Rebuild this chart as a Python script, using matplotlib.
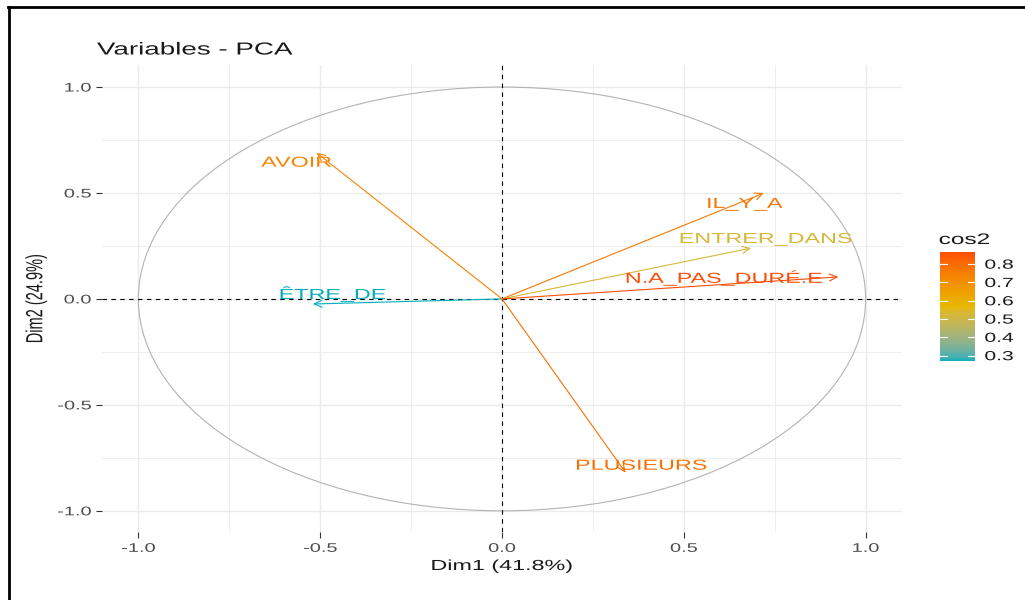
import numpy as np
import matplotlib
matplotlib.use("Agg")
import matplotlib.pyplot as plt
from matplotlib.colors import ListedColormap, Normalize, to_rgb
from matplotlib.lines import Line2D
from matplotlib.patches import Circle
from matplotlib.patheffects import AbstractPathEffect
from matplotlib.transforms import Affine2D
import matplotlib.cm as cm

plt.rcParams["font.family"] = ["Liberation Sans", "DejaVu Sans"]

# variable coordinates on Dim1 / Dim2
variables = ["AVOIR", "IL_Y_A", "ENTRER_DANS", "N.A_PAS_DURÉ.E", "ÊTRE_DE", "PLUSIEURS"]
dim1 = [-0.51, 0.72, 0.685, 0.925, -0.52, 0.34]
dim2 = [0.69, 0.50, 0.24, 0.104, -0.024, -0.82]

title = "Variables - PCA"
xlabel = "Dim1 (41.8%)"
ylabel = "Dim2 (24.9%)"
ticks = [-1.0, -0.5, 0.0, 0.5, 1.0]
cbar_ticks = [0.3, 0.4, 0.5, 0.6, 0.7, 0.8]
gradient_cols = ["#00AFBB", "#E7B800", "#FC4E07"]

# label offsets from arrow tip, in points
label_offsets = {
    "AVOIR": (-14.4, -7.2),
    "IL_Y_A": (-13.7, -7.9),
    "ENTRER_DANS": (10.8, 6.5),
    "N.A_PAS_DURÉ.E": (-82.2, -0.7),
    "ÊTRE_DE": (14.4, 7.2),
    "PLUSIEURS": (11.5, 5.0),
}

SX = 1.6  # the screenshot is stretched sideways, text too


class Stretch(AbstractPathEffect):
    """Widen text horizontally around an anchor (screen space)."""

    def __init__(self, sx=SX, anchor="center"):
        super().__init__()
        self.sx = sx
        self.anchor = anchor

    def draw_path(self, renderer, gc, tpath, affine, rgbFace=None):
        ext = tpath.get_extents(affine)
        if self.anchor == "left":
            x0 = ext.x0
        elif self.anchor == "right":
            x0 = ext.x1
        else:
            x0 = 0.5 * (ext.x0 + ext.x1)
        tr = affine + Affine2D().translate(-x0, 0).scale(self.sx, 1).translate(x0, 0)
        renderer.draw_path(gc, tpath, tr, rgbFace)


def stretch(artists, anchor="center"):
    for a in artists:
        a.set_path_effects([Stretch(SX, anchor)])


# ggplot interpolates gradients in Lab space
def srgb_to_lab(rgb):
    c = np.asarray(rgb, float)
    c = np.where(c <= 0.04045, c / 12.92, ((c + 0.055) / 1.055) ** 2.4)
    m = np.array([[0.4124, 0.3576, 0.1805], [0.2126, 0.7152, 0.0722], [0.0193, 0.1192, 0.9505]])
    xyz = m @ c / np.array([0.95047, 1.0, 1.08883])
    d = 6 / 29
    f = np.where(xyz > d ** 3, np.cbrt(xyz), xyz / (3 * d * d) + 4 / 29)
    return np.array([116 * f[1] - 16, 500 * (f[0] - f[1]), 200 * (f[1] - f[2])])


def lab_to_srgb(lab):
    L, a, b = lab
    fy = (L + 16) / 116
    f = np.array([fy + a / 500, fy, fy - b / 200])
    d = 6 / 29
    xyz = np.where(f > d, f ** 3, 3 * d * d * (f - 4 / 29)) * np.array([0.95047, 1.0, 1.08883])
    mi = np.array([[3.2406, -1.5372, -0.4986], [-0.9689, 1.8758, 0.0415], [0.0557, -0.2040, 1.0570]])
    c = mi @ xyz
    c = np.where(c <= 0.0031308, 12.92 * c, 1.055 * np.clip(c, 0, None) ** (1 / 2.4) - 0.055)
    return np.clip(c, 0, 1)


labs = [srgb_to_lab(to_rgb(c)) for c in gradient_cols]
samples = []
for t in np.linspace(0, 1, 256):
    seg = min(int(t * 2), 1)
    u = t * 2 - seg
    samples.append(lab_to_srgb(labs[seg] * (1 - u) + labs[seg + 1] * u))
cmap = ListedColormap(samples)

x = np.array(dim1)
y = np.array(dim2)
cos2 = x ** 2 + y ** 2
norm = Normalize(vmin=cos2.min(), vmax=cos2.max())

fig = plt.figure(figsize=(10.25, 6.0), dpi=100)
ax = fig.add_axes([102 / 1025, 1 - 532 / 600, 800 / 1025, 467 / 600])

ax.set_xlim(-1.1, 1.1)
ax.set_ylim(-1.1, 1.104)

# grid like theme_minimal
for v in np.arange(-1.0, 1.01, 0.25):
    lw = 1.0 if abs(v * 2 - round(v * 2)) < 1e-9 else 0.6
    ax.axvline(v, color="#EBEBEB", lw=lw, zorder=0)
    ax.axhline(v, color="#EBEBEB", lw=lw, zorder=0)

for s in ax.spines.values():
    s.set_visible(False)

ax.add_patch(Circle((0, 0), 1.0, fill=False, ec="#B3B3B3", lw=0.8, zorder=1))
ax.axhline(0, color="black", lw=0.8, ls=(0, (4, 4)), zorder=2)
ax.axvline(0, color="black", lw=0.8, ls=(0, (4, 4)), zorder=2)

for name, xi, yi, c in zip(variables, x, y, cos2):
    col = cmap(norm(c))
    ax.annotate("", xy=(xi, yi), xytext=(0, 0),
                arrowprops=dict(arrowstyle="->,head_length=0.55,head_width=0.25",
                                color=col, lw=0.8, shrinkA=0, shrinkB=0),
                zorder=3)
    dx, dy = label_offsets[name]
    t = ax.annotate(name, xy=(xi, yi), xytext=(dx, dy), textcoords="offset points",
                    ha="center", va="center", color=col, fontsize=10.5, zorder=4)
    stretch([t])

ax.set_xticks(ticks)
ax.set_yticks(ticks)
ax.set_xticklabels([f"{t:.1f}" for t in ticks])
ax.set_yticklabels([f"{t:.1f}" for t in ticks])
ax.tick_params(axis="both", length=4.3, width=0.8, color="#333333",
               labelcolor="#4D4D4D", labelsize=9, pad=3.5)
ax.set_xlabel(xlabel, fontsize=10.5, color="#1A1A1A", labelpad=3)
ax.set_ylabel(ylabel, fontsize=10.5, color="#1A1A1A")
ax.yaxis.set_label_coords(-59 / 800, 0.5)
stretch(ax.get_xticklabels())
stretch(ax.get_yticklabels(), "right")
stretch([ax.xaxis.label, ax.yaxis.label])

tt = fig.text(97 / 1025, 1 - 50 / 600, title, fontsize=12.5, color="#1A1A1A",
              ha="left", va="center")
stretch([tt], "left")

# colour bar
cax = fig.add_axes([940 / 1025, 1 - 361 / 600, 35 / 1025, 109 / 600])
sm = cm.ScalarMappable(norm=norm, cmap=cmap)
cb = fig.colorbar(sm, cax=cax, ticks=cbar_ticks)
cb.outline.set_visible(False)
cb.ax.tick_params(length=0, labelsize=9.5, labelcolor="#1A1A1A", pad=7)
cb.ax.set_yticklabels([f"{t:.1f}" for t in cbar_ticks])
stretch(cb.ax.get_yticklabels(), "left")
for t in cbar_ticks:
    cax.plot([0, 0.2], [t, t], color="white", lw=0.8, transform=cax.get_yaxis_transform())
    cax.plot([0.8, 1.0], [t, t], color="white", lw=0.8, transform=cax.get_yaxis_transform())
ct = fig.text(939 / 1025, 1 - 240 / 600, "cos2", fontsize=11, color="#1A1A1A",
              ha="left", va="center")
stretch([ct], "left")

# frame around screenshot (top and left edges)
fig.add_artist(Line2D([8 / 1025, 1.0], [1 - 7 / 600, 1 - 7 / 600], color="black",
                      lw=2.0, transform=fig.transFigure))
fig.add_artist(Line2D([9 / 1025, 9 / 1025], [0.0, 1 - 7 / 600], color="black",
                      lw=2.0, transform=fig.transFigure))

fig.savefig("out.png", dpi=100)
